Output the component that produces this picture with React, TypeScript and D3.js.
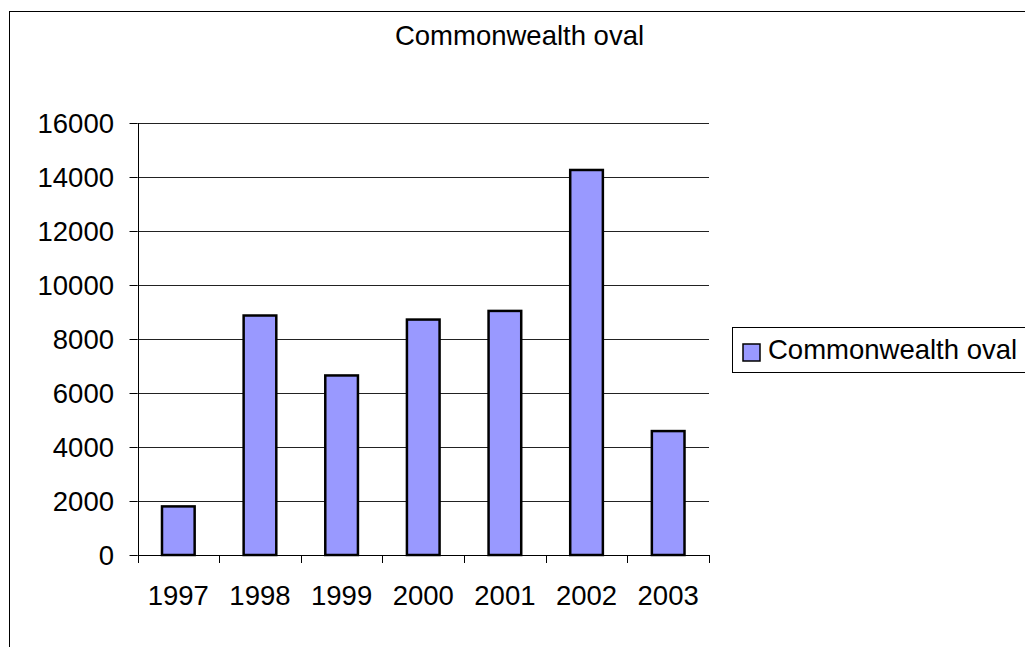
import * as d3 from "d3";

const years = ["1997", "1998", "1999", "2000", "2001", "2002", "2003"];
const visitors = [1800, 8870, 6650, 8720, 9040, 14260, 4590];
const yTicks = [0, 2000, 4000, 6000, 8000, 10000, 12000, 14000, 16000];
const seriesName = "Commonwealth oval";
const chartTitle = "Commonwealth oval";

const W = 1025;
const H = 647;
const plot = {left: 137.5, right: 709, top: 123, bottom: 555};
const font = "'Liberation Sans', Arial, sans-serif";
const fontSize = 27.5;
const barColor = "#9999FF";

export default function App() {
    const x = d3.scaleBand().domain(years).range([plot.left, plot.right]).paddingInner(0.6).paddingOuter(0.3);
    const band = d3.scaleBand().domain(years).range([plot.left, plot.right]);
    const y = d3.scaleLinear().domain([0, 16000]).range([plot.bottom, plot.top]);
    const crisp = (v: number) => Math.round(v) + 0.5;

    return <svg width={W} height={H} style={{position: "absolute", left: 0, top: 0}} fontFamily={font}>
        <rect x={0} y={0} width={W} height={H} fill="#fff"/>
        {/* outer frame, clipped on the right and bottom like the original */}
        <rect x={9.5} y={11.5} width={W + 20} height={H + 20} fill="none" stroke="#000" strokeWidth={1}/>
        <text x={519.5} y={45} textAnchor="middle" fontSize={fontSize}>{chartTitle}</text>

        {/* gridlines and y ticks */}
        {yTicks.map(t => <g key={t}>
            {t > 0 && <line x1={plot.left} x2={plot.right} y1={crisp(y(t))} y2={crisp(y(t))} stroke="#222" strokeWidth={1}/>}
            <line x1={plot.left - 8} x2={plot.left} y1={crisp(y(t))} y2={crisp(y(t))} stroke="#000" strokeWidth={1}/>
            <text x={114} y={y(t)} dy="0.35em" textAnchor="end" fontSize={fontSize}>{t}</text>
        </g>)}

        {/* bars */}
        {years.map((yr, i) => (
            <rect key={yr}
                  x={x(yr)}
                  y={y(visitors[i])}
                  width={x.bandwidth()}
                  height={y(0) - y(visitors[i])}
                  fill={barColor}
                  stroke="#000"
                  strokeWidth={2.5}/>
        ))}

        {/* axes */}
        <line x1={crisp(plot.left)} x2={crisp(plot.left)} y1={plot.top} y2={plot.bottom} stroke="#000" strokeWidth={1}/>
        <line x1={plot.left} x2={plot.right} y1={crisp(plot.bottom)} y2={crisp(plot.bottom)} stroke="#000" strokeWidth={1}/>
        {[...years.map(yr => band(yr) as number), plot.right].map((v, i) => (
            <line key={i} x1={crisp(v)} x2={crisp(v)} y1={plot.bottom} y2={plot.bottom + 8} stroke="#000" strokeWidth={1}/>
        ))}
        {years.map(yr => (
            <text key={yr} x={(band(yr) as number) + band.bandwidth() / 2} y={605} textAnchor="middle" fontSize={fontSize}>{yr}</text>
        ))}

        {/* legend */}
        <rect x={732.5} y={327.5} width={400} height={45} fill="#fff" stroke="#000" strokeWidth={1}/>
        <rect x={743} y={344} width={17} height={17} fill={barColor} stroke="#000" strokeWidth={1.5}/>
        <text x={768} y={358.5} fontSize={fontSize}>{seriesName}</text>
    </svg>;
}
